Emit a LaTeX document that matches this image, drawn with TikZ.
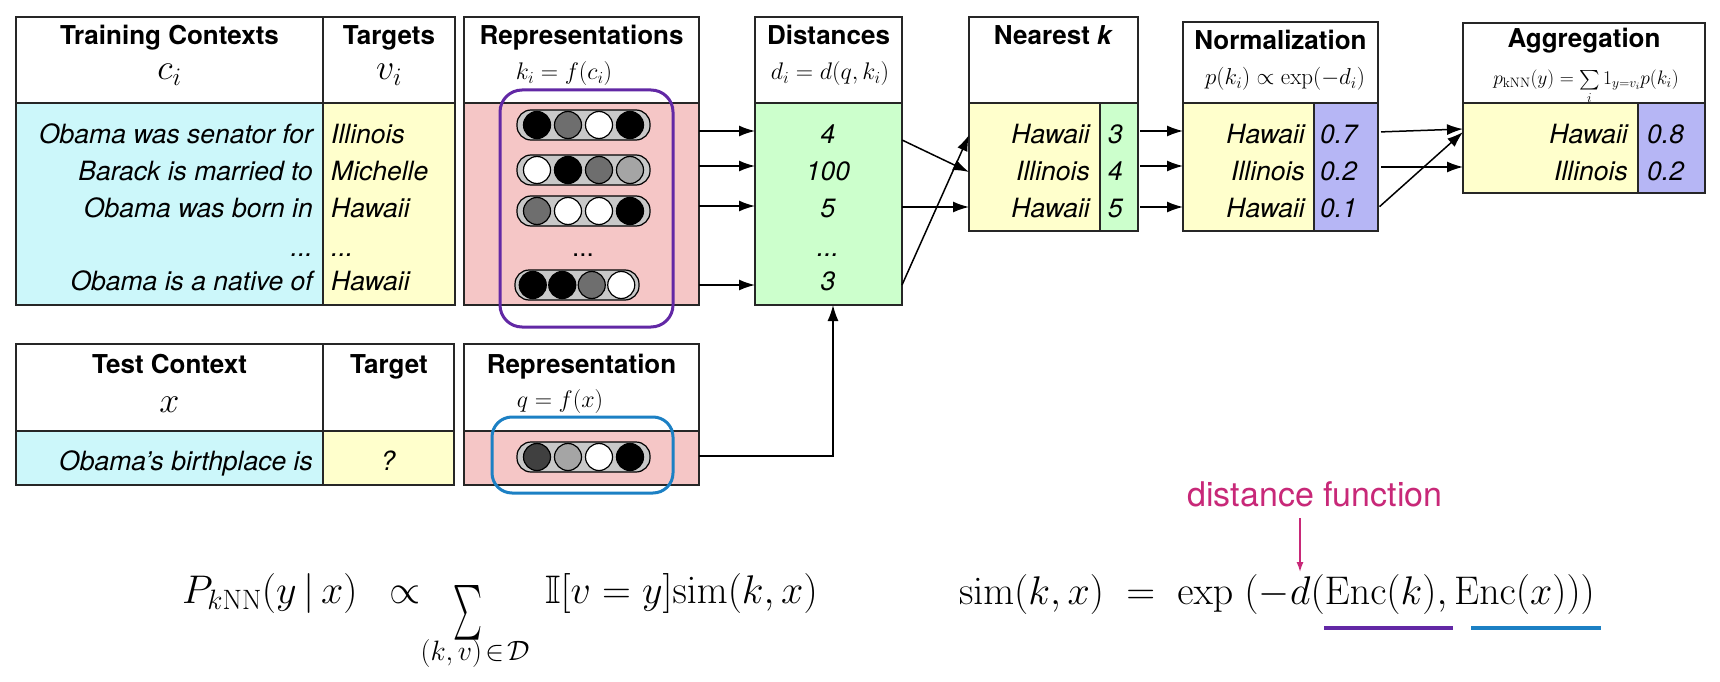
\RequirePackage{fix-cm}
\documentclass[tikz,border=0pt]{standalone}
\usepackage[no-math]{fontspec}
\usepackage{amssymb}
\usepackage{graphicx}
\setmainfont{TeX Gyre Heros}
\usetikzlibrary{arrows.meta}
\definecolor{cyanbg}{RGB}{204,247,250}
\definecolor{yellowbg}{RGB}{255,255,204}
\definecolor{pinkbg}{RGB}{245,198,198}
\definecolor{greenbg}{RGB}{204,255,204}
\definecolor{lavbg}{RGB}{182,182,245}
\definecolor{mkpurple}{RGB}{98,40,165}
\definecolor{mkblue}{RGB}{28,128,196}
\definecolor{magentatxt}{RGB}{200,40,120}
\definecolor{dgray}{RGB}{110,110,110}
\definecolor{lgray}{RGB}{165,165,165}
\definecolor{pillgray}{RGB}{200,200,200}
\tikzset{
  cell/.style={draw=black!85, line width=1.3pt, inner sep=0pt, outer sep=0pt},
  ttl/.style={font=\fontsize{26}{30}\selectfont\bfseries, anchor=base, inner sep=0pt},
  ctxt/.style={font=\fontsize{26.5}{30}\selectfont\itshape, anchor=base, inner sep=0pt},
  rtxt/.style={ctxt, anchor=base east},
  ltxt/.style={ctxt, anchor=base west},
  bigm/.style={font=\fontsize{36}{40}\selectfont, anchor=base, inner sep=0pt},
  mth/.style={font=\fontsize{24}{28}\selectfont, anchor=base, inner sep=0pt},
  smth/.style={font=\fontsize{19.5}{23}\selectfont, anchor=base, inner sep=0pt},
  fml/.style={font=\fontsize{40}{48}\selectfont, inner sep=0pt},
  arr/.style={-{Latex[length=16pt,width=11pt]}, line width=1.5pt, black},
  magarr/.style={-{Latex[length=10pt,width=7pt]}, line width=1.4pt, magentatxt},
  pill/.style={draw=black, line width=1.2pt, fill=pillgray, rounded corners=14pt, inner sep=0pt},
  vdot/.style={circle, draw=black, line width=1.2pt, minimum size=27pt, inner sep=0pt},
  marker/.style={line width=3pt, rounded corners=22pt},
}
\newcommand\cellbox[6]{\node[cell, fill=#6, minimum width={(#4-#2)*1pt}, minimum height={(#5-#3)*1pt}] (#1) at ({(#2+#4)/2},{(#3+#5)/2}) {};}
\newcommand\pillrow[9]{%
  \node[pill, minimum width={2*#5*1pt}, minimum height=30pt] (#1) at (#2,#3) {};
  \node[vdot, fill=#6] (#1-a) at ({#2-1.5*#4},#3) {};
  \node[vdot, fill=#7] (#1-b) at ({#2-0.5*#4},#3) {};
  \node[vdot, fill=#8] (#1-c) at ({#2+0.5*#4},#3) {};
  \node[vdot, fill=#9] (#1-d) at ({#2+1.5*#4},#3) {};
}
\newcommand\bbone{\mathord{\hbox{\fontsize{24.88}{30}\selectfont\scalebox{1.6}{$\mathbb{I}$}}}}
\begin{document}
\begin{tikzpicture}[x=1pt,y=-1pt]
\useasboundingbox[fill=white] (0,0) rectangle (1720,682);
% ---------- tables ----------
\cellbox{tch}{16}{17}{323}{103}{white}
\cellbox{tcb}{16}{103}{323}{305}{cyanbg}
\cellbox{tgh}{323}{17}{455}{103}{white}
\cellbox{tgb}{323}{103}{455}{305}{yellowbg}
\cellbox{rph}{464}{17}{699}{103}{white}
\cellbox{rpb}{464}{103}{699}{305}{pinkbg}
\cellbox{dsh}{755}{17}{902}{103}{white}
\cellbox{dsb}{755}{103}{902}{305}{greenbg}
\cellbox{nkh}{969}{17}{1138}{103}{white}
\cellbox{nkb}{969}{103}{1100}{231}{yellowbg}
\cellbox{nkd}{1100}{103}{1138}{231}{greenbg}
\cellbox{nmh}{1183}{22}{1378}{103}{white}
\cellbox{nmb}{1183}{103}{1314}{231}{yellowbg}
\cellbox{nmp}{1314}{103}{1378}{231}{lavbg}
\cellbox{agh}{1463}{23}{1705}{103}{white}
\cellbox{agb}{1463}{103}{1638}{193}{yellowbg}
\cellbox{agp}{1638}{103}{1705}{193}{lavbg}
\cellbox{teh}{16}{344}{323}{431}{white}
\cellbox{teb}{16}{431}{323}{485}{cyanbg}
\cellbox{tth}{323}{344}{454}{431}{white}
\cellbox{ttb}{323}{431}{454}{485}{yellowbg}
\cellbox{qrh}{464}{344}{699}{431}{white}
\cellbox{qrb}{464}{431}{699}{485}{pinkbg}
% ---------- titles ----------
\node[ttl] (T1) at (169.5,45) {Training Contexts};
\node[ttl] (T2) at (389,45) {Targets};
\node[ttl] (T3) at (581.5,45) {Representations};
\node[ttl] (T4) at (828.5,45) {Distances};
\node[ttl] (T5) at (1053.5,45) {Nearest \textit{k}};
\node[ttl] (T6) at (1280.5,50) {Normalization};
\node[ttl] (T7) at (1584,48) {Aggregation};
\node[ttl] (T8) at (169.5,373) {Test Context};
\node[ttl] (T9) at (389,373) {Target};
\node[ttl] (T10) at (581.5,373) {Representation};
% ---------- header maths ----------
\node[bigm] (M1) at (169.5,80) {$c_i$};
\node[bigm] (M2) at (389,80) {$v_i$};
\node[mth] (M3) at (564,80) {$k_i = f(c_i)$};
\node[mth] (M4) at (830,80) {$d_i = d(q,k_i)$};
\node[mth, font=\fontsize{23}{27}\selectfont] (M5) at (1285,85) {$p(k_i) \propto \exp(-d_i)$};
\node[smth] (M6) at (1586,85) {$p_{\mathrm{kNN}}(y) = \sum\limits_i 1_{y=v_i}p(k_i)$};
\node[bigm] (M7) at (169.5,412) {$x$};
\node[mth] (M8) at (560,407) {$q = f(x)$};
% ---------- training rows ----------
\node[rtxt] (c1) at (313,143) {Obama was senator for};
\node[rtxt] (c2) at (313,180) {Barack is married to};
\node[rtxt] (c3) at (313,217) {Obama was born in};
\node[rtxt] (c4) at (313,256) {...};
\node[rtxt] (c5) at (313,290) {Obama is a native of};
\node[ltxt] (v1) at (331,143) {Illinois};
\node[ltxt] (v2) at (331,180) {Michelle};
\node[ltxt] (v3) at (331,217) {Hawaii};
\node[ltxt] (v4) at (331,256) {...};
\node[ltxt] (v5) at (331,290) {Hawaii};
% ---------- representations ----------
\pillrow{p1}{583.5}{125}{31}{66.5}{black}{dgray}{white}{black}
\pillrow{p2}{583.5}{170}{31}{66.5}{white}{black}{dgray}{lgray}
\pillrow{p3}{583.5}{211}{31}{66.5}{dgray}{white}{white}{black}
\node[ctxt, font=\fontsize{26}{30}\selectfont] (p4) at (583,256) {...};
\pillrow{p5}{577}{285}{29.5}{62}{black}{black}{dgray}{white}
\pillrow{pq}{583.5}{457}{31}{66.5}{black!75}{lgray}{white}{black}
\draw[marker, mkpurple] (500,90) rectangle (673,327);
\draw[marker, mkblue, rounded corners=20pt] (492,417) rectangle (673,493);
% ---------- distances ----------
\node[ctxt] (d1) at (828,143) {4};
\node[ctxt] (d2) at (828,180) {100};
\node[ctxt] (d3) at (828,217) {5};
\node[ctxt] (d4) at (828,256) {...};
\node[ctxt] (d5) at (828,290) {3};
% ---------- nearest k ----------
\node[rtxt] (n1) at (1090,143) {Hawaii};
\node[rtxt] (n2) at (1090,180) {Illinois};
\node[rtxt] (n3) at (1090,217) {Hawaii};
\node[ltxt] (nd1) at (1108,143) {3};
\node[ltxt] (nd2) at (1108,180) {4};
\node[ltxt] (nd3) at (1108,217) {5};
% ---------- normalization ----------
\node[rtxt] (m1) at (1305,143) {Hawaii};
\node[rtxt] (m2) at (1305,180) {Illinois};
\node[rtxt] (m3) at (1305,217) {Hawaii};
\node[ltxt] (mp1) at (1320,143) {0.7};
\node[ltxt] (mp2) at (1320,180) {0.2};
\node[ltxt] (mp3) at (1320,217) {0.1};
% ---------- aggregation ----------
\node[rtxt] (g1) at (1628,143) {Hawaii};
\node[rtxt] (g2) at (1628,180) {Illinois};
\node[ltxt] (gp1) at (1647,143) {0.8};
\node[ltxt] (gp2) at (1647,180) {0.2};
% ---------- test rows ----------
\node[rtxt] (x1) at (313,470) {Obama’s birthplace is};
\node[ctxt] (x2) at (388,470) {?};
% ---------- connectors ----------
\draw[arr] (rpb.east |- 0,131) -- (dsb.west |- 0,131);
\draw[arr] (rpb.east |- 0,166) -- (dsb.west |- 0,166);
\draw[arr] (rpb.east |- 0,206) -- (dsb.west |- 0,206);
\draw[arr] (rpb.east |- 0,285) -- (dsb.west |- 0,285);
\draw[arr] (dsb.east |- 0,140) -- (nkb.west |- 0,172);
\draw[arr] (dsb.east |- 0,207) -- (nkb.west |- 0,207);
\draw[arr] (dsb.east |- 0,285) -- (nkb.west |- 0,135);
\draw[arr, shorten <=2pt] (nkd.east |- 0,131) -- (nmb.west |- 0,131);
\draw[arr, shorten <=2pt] (nkd.east |- 0,166) -- (nmb.west |- 0,166);
\draw[arr, shorten <=2pt] (nkd.east |- 0,207) -- (nmb.west |- 0,207);
\draw[arr, shorten <=3pt] (nmp.east |- 0,132) -- (agb.west |- 0,129);
\draw[arr, shorten <=3pt] (nmp.east |- 0,167) -- (agb.west |- 0,167);
\draw[arr, shorten <=2pt] (nmp.east |- 0,208) -- (agb.west |- 0,132);
\coordinate (upx) at (833,305);
\draw[arr] (qrb.east |- 0,456) -| (upx);
% ---------- formulas ----------
\node[fml, anchor=base west] (F1a) at (182,603) {$P_{k\mathrm{NN}}(y\,|\,x)$};
\node[fml, anchor=base west] (F1b) at (389,603) {$\propto$};
\node[inner sep=0pt] (F1c) at (467.5,612.5) {\resizebox{29pt}{41pt}{$\sum$}};
\node[font=\fontsize{28}{32}\selectfont, anchor=base, inner sep=0pt] (F1d) at (475,660) {$(k,v)\!\in\!\mathcal{D}$};
\node[fml, anchor=base west] (F1e) at (545,603) {$\bbone[v = y]\mathrm{sim}(k,x)$};
\node[fml, anchor=base east] (F2a) at (1290,604) {$\mathrm{sim}(k,x)\;=\;\exp\;(-$};
\node[fml, anchor=base west] (F2b) at (1290,604) {$d(\mathrm{Enc}(k),\mathrm{Enc}(x)))$};
\node[font=\fontsize{34}{40}\selectfont, text=magentatxt, anchor=base, inner sep=0pt] (DF) at (1315,506) {distance function};
\coordinate (DFa) at (1300,518);
\coordinate (DFb) at (1300,572);
\draw[magarr] (DFa) -- (DFb);
\coordinate (u1a) at (1324,628);
\coordinate (u1b) at (1453,628);
\coordinate (u2a) at (1471,628);
\coordinate (u2b) at (1601,628);
\draw[mkpurple, line width=4pt] (u1a) -- (u1b);
\draw[mkblue, line width=4pt] (u2a) -- (u2b);
\end{tikzpicture}
\end{document}
